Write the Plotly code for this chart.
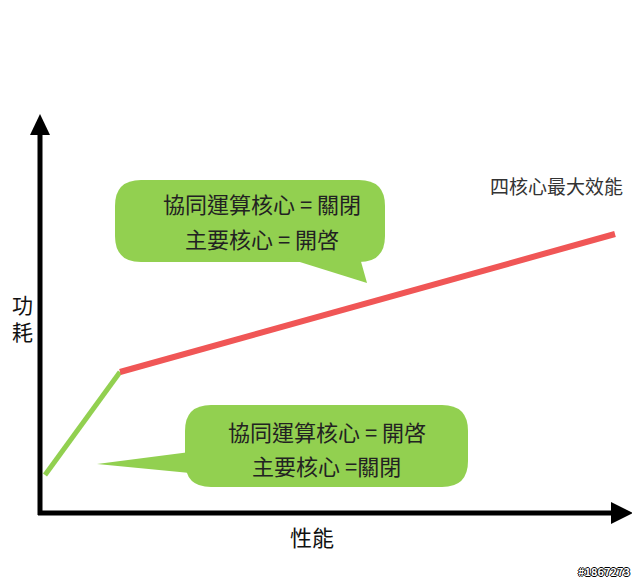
import plotly.graph_objects as go

# performance / power curve (units = px from the origin of the drawn axes)
low_perf = [5, 80]
low_power = [38, 141]
high_perf = [80, 575]
high_power = [141, 279]

bubble_top = ["協同運算核心 = 關閉", "主要核心 = 開啓"]
bubble_bottom = ["協同運算核心 = 開啓", "主要核心 =關閉"]
peak_label = "四核心最大效能"
x_label = "性能"
y_label = "功耗"
tag = "#1867273"

# the page body has an 8px margin, so the figure is 8px smaller than the window
W, H = 632, 570
OX, OY = 32, 505  # origin of the axes inside the figure
GREEN = "#92D050"
RED = "#F05656"
FONT = "Noto Sans CJK TC"


def d(px, py):
    # window pixel -> data units
    return px - 40, 513 - py


def rbox(x0, y0, x1, y1, r):
    def p(x, y):
        a, b = d(x, y)
        return f"{a},{b}"
    s = "M " + p(x0 + r, y0)
    s += " L " + p(x1 - r, y0)
    s += " Q " + p(x1, y0) + " " + p(x1, y0 + r)
    s += " L " + p(x1, y1 - r)
    s += " Q " + p(x1, y1) + " " + p(x1 - r, y1)
    s += " L " + p(x0 + r, y1)
    s += " Q " + p(x0, y1) + " " + p(x0, y1 - r)
    s += " L " + p(x0, y0 + r)
    s += " Q " + p(x0, y0) + " " + p(x0 + r, y0) + " Z"
    return s


def poly(points):
    s = ""
    for i, (x, y) in enumerate(points):
        a, b = d(x, y)
        s += ("M " if i == 0 else " L ") + f"{a},{b}"
    return s + " Z"


fig = go.Figure()
fig.add_trace(go.Scatter(x=low_perf, y=low_power, mode="lines",
                         line=dict(color=GREEN, width=5), showlegend=False))
fig.add_trace(go.Scatter(x=high_perf, y=high_power, mode="lines",
                         line=dict(color=RED, width=6), showlegend=False))

shapes = []
# speech bubbles
shapes.append(dict(type="path", path=rbox(115, 180, 385, 262, 26),
                   fillcolor=GREEN, line=dict(width=0), layer="below"))
shapes.append(dict(type="path", path=poly([(287, 258), (367, 283), (360, 258)]),
                   fillcolor=GREEN, line=dict(width=0), layer="below"))
shapes.append(dict(type="path", path=rbox(185, 405, 468, 487, 26),
                   fillcolor=GREEN, line=dict(width=0), layer="below"))
shapes.append(dict(type="path", path=poly([(190, 452), (97, 464), (190, 473)]),
                   fillcolor=GREEN, line=dict(width=0), layer="below"))
# axes with arrows
shapes.append(dict(type="line", x0=0, y0=-2, x1=0, y1=380,
                   line=dict(color="black", width=5)))
shapes.append(dict(type="line", x0=-2, y0=0, x1=575, y1=0,
                   line=dict(color="black", width=5)))
shapes.append(dict(type="path", path=poly([(30, 135), (40, 114), (50, 135)]),
                   fillcolor="black", line=dict(width=0)))
shapes.append(dict(type="path", path=poly([(611, 502), (633, 513), (611, 524)]),
                   fillcolor="black", line=dict(width=0)))

ann = []
def text(px, py, t, size, color="#222", **kw):
    a, b = d(px, py)
    ann.append(dict(x=a, y=b, xref="x", yref="y", text=t, showarrow=False,
                    font=dict(family=FONT, size=size, color=color, **kw),
                    xanchor="center", yanchor="middle"))

text(262, 203, bubble_top[0], 22)
text(262, 238, bubble_top[1], 22)
text(327, 431, bubble_bottom[0], 22)
text(326, 465, bubble_bottom[1], 22)
text(556, 185, peak_label, 19, color="#333")
text(312, 536, x_label, 22, color="#111")
text(22, 317, y_label[0] + "<br>" + y_label[1], 21, color="#111")
text(604, 571, "<b>" + tag + "</b>", 11, color="white",
     shadow="1px 0 0 #000, -1px 0 0 #000, 0 1px 0 #000, 0 -1px 0 #000")

fig.update_layout(
    width=W, height=H,
    margin=dict(l=0, r=0, t=0, b=0),
    paper_bgcolor="white", plot_bgcolor="white",
    xaxis=dict(range=[-OX, W - OX], visible=False, fixedrange=True),
    yaxis=dict(range=[OY - H, OY], visible=False, fixedrange=True),
    shapes=shapes, annotations=ann,
)
fig.write_html("out.html")
